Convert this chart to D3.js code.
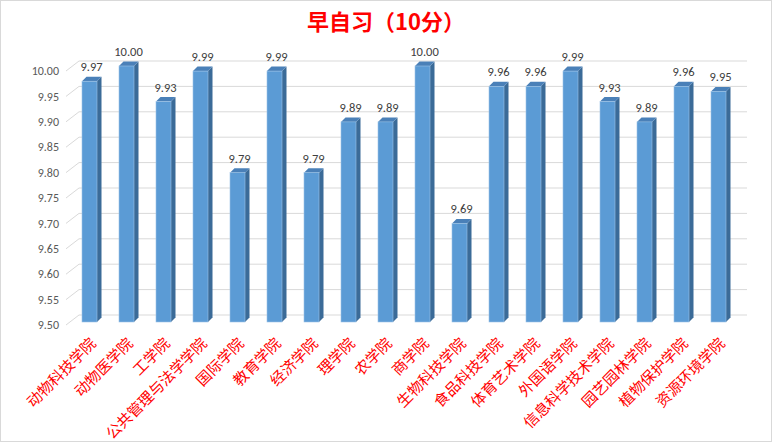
<!DOCTYPE html>
<html><head><meta charset="utf-8">
<script src="https://cdn.jsdelivr.net/npm/d3@7/dist/d3.min.js"></script>
<style>body{margin:0;background:#fff}svg{display:block}</style>
</head><body>
<svg id="c" width="777" height="448"></svg>
<script>
const categories = ["动物科技学院","动物医学院","工学院","公共管理与法学学院","国际学院","教育学院","经济学院","理学院","农学院","商学院","生物科技学院","食品科技学院","体育艺术学院","外国语学院","信息科学技术学院","园艺园林学院","植物保护学院","资源环境学院"];
const values = [9.97,10.00,9.93,9.99,9.79,9.99,9.79,9.89,9.89,10.00,9.69,9.96,9.96,9.99,9.93,9.89,9.96,9.95];
const yTicks = [9.50,9.55,9.60,9.65,9.70,9.75,9.80,9.85,9.90,9.95,10.00];
const title = "早自习（10分）";

const svg = d3.select("#c");
svg.append("rect").attr("x",0.5).attr("y",0.5).attr("width",771).attr("height",441)
  .attr("fill","#fff").attr("stroke","#d9d9d9");

const y = d3.scaleLinear().domain([9.5,10]).range([315,61]);
const x = d3.scaleBand().domain(categories).range([79,745]);
const fdx = -13, fdy = 10; // front plane offset
const cjk = "'Noto Sans CJK SC','Noto Sans',sans-serif";
const num = "Calibri,Carlito,'Liberation Sans',Arial,sans-serif";

const g = svg.append("g");
yTicks.forEach(t=>{
  g.append("line").attr("x1",79).attr("x2",747).attr("y1",y(t)).attr("y2",y(t))
    .attr("stroke","#d9d9d9").attr("stroke-width",1);
  g.append("line").attr("x1",79+fdx).attr("y1",y(t)+fdy).attr("x2",79).attr("y2",y(t))
    .attr("stroke","#d9d9d9").attr("stroke-width",1);
  g.append("text").attr("x",59).attr("y",y(t)+fdy).attr("dy","0.35em")
    .attr("text-anchor","end").attr("font-family",num)
    .attr("font-size",12).attr("fill","#595959").text(t.toFixed(2));
});

const bw = 15, dep = 4.5;
const bars = svg.append("g");
categories.forEach((c,i)=>{
  const v = values[i];
  const cx = x(c) + x.bandwidth()/2 - 8;
  const x0 = cx - bw/2, x1 = cx + bw/2;
  const yt = y(v) + 5, yb = y(9.5) + 7;
  bars.append("path").attr("d",`M${x1},${yt}L${x1+dep},${yt-dep}L${x1+dep},${yb-dep}L${x1},${yb}Z`)
    .attr("fill","#3b6b98");
  bars.append("path").attr("d",`M${x0},${yt}L${x0+dep},${yt-dep}L${x1+dep},${yt-dep}L${x1},${yt}Z`)
    .attr("fill","#4a80b8");
  bars.append("rect").attr("x",x0).attr("y",yt).attr("width",bw).attr("height",yb-yt)
    .attr("fill","#5b9bd5").attr("stroke","#9dc3e6").attr("stroke-width",0.6);
  bars.append("text").attr("x",cx+2).attr("y",yt-10)
    .attr("text-anchor","middle").attr("font-family",num)
    .attr("font-size",12.5).attr("fill","#404040").text(v.toFixed(2));
  bars.append("text").attr("transform",`translate(${cx-1},${336}) rotate(-45)`)
    .attr("text-anchor","end").attr("dy","0.8em")
    .attr("font-family",cjk).attr("font-size",15).attr("fill","#ff0000").text(c);
});

svg.append("text").attr("x",386).attr("y",22).attr("dy","0.35em").attr("text-anchor","middle")
  .attr("font-family",cjk).attr("font-weight","bold").attr("font-size",22).attr("fill","#ff0000").text(title);
</script>
</body></html>
